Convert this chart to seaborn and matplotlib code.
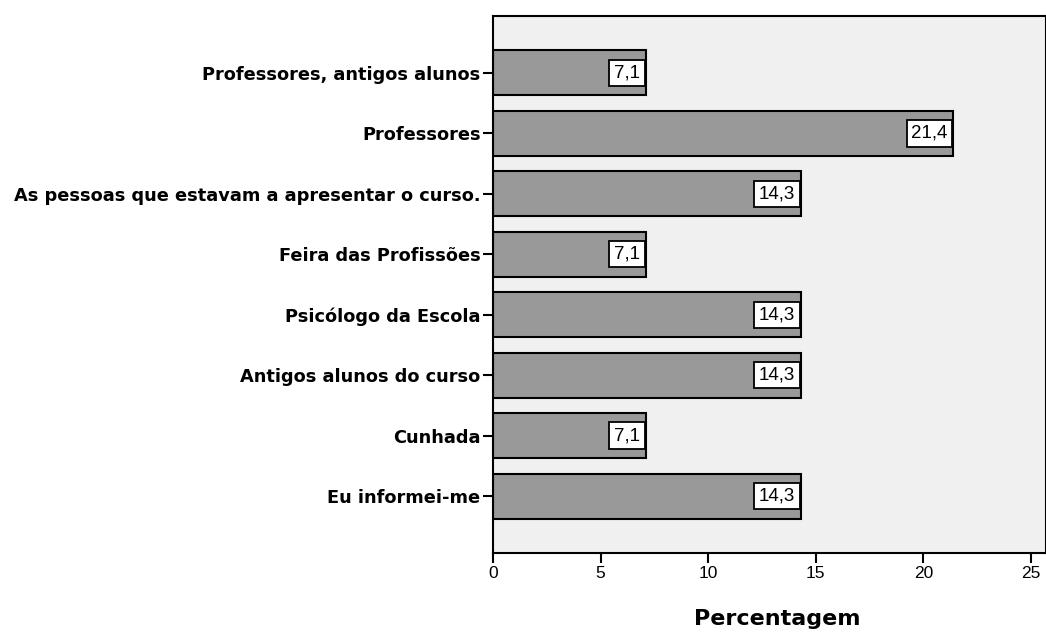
import matplotlib
matplotlib.use("Agg")
import matplotlib.pyplot as plt
import seaborn as sns
import pandas as pd

categories = [
    "Professores, antigos alunos",
    "Professores",
    "As pessoas que estavam a apresentar o curso.",
    "Feira das Profissões",
    "Psicólogo da Escola",
    "Antigos alunos do curso",
    "Cunhada",
    "Eu informei-me",
]
values = [7.1, 21.4, 14.3, 7.1, 14.3, 14.3, 7.1, 14.3]
value_labels = ["7,1", "21,4", "14,3", "7,1", "14,3", "14,3", "7,1", "14,3"]
xticks = [0, 5, 10, 15, 20, 25]

sns.set_style("white")
plt.rcParams["font.family"] = ["Liberation Sans", "DejaVu Sans"]
plt.rcParams["text.color"] = "black"
plt.rcParams["xtick.color"] = "black"
plt.rcParams["ytick.color"] = "black"
plt.rcParams["axes.labelcolor"] = "black"

df = pd.DataFrame({"cat": categories, "val": values})

fig = plt.figure(figsize=(10.46, 6.33), dpi=100)
ax = fig.add_axes([493 / 1046, 1 - 553 / 633, (1046 - 493) / 1046, (553 - 16) / 633])
ax.set_facecolor("#f0f0f0")

sns.barplot(data=df, x="val", y="cat", orient="h", color="#999999",
            edgecolor="black", linewidth=1.5, width=0.745, saturation=1, ax=ax)

for i, (v, lab) in enumerate(zip(values, value_labels)):
    ax.annotate(lab, xy=(v, i), xytext=(-4.2, 0), textcoords="offset points",
                ha="right", va="center", fontsize=13.5, color="black",
                bbox=dict(boxstyle="square,pad=0.25", facecolor="white",
                          edgecolor="black", linewidth=1.3))

ax.set_xlim(0, 25.7)
ax.set_ylim(len(categories) - 1 + 0.94, -0.94)
ax.set_xticks(xticks)
ax.set_xticklabels([str(t) for t in xticks], fontsize=12.5)
ax.set_yticks(range(len(categories)))
ax.set_yticklabels(categories, fontsize=12.8, fontweight="bold",
                   family=["DejaVu Sans"])
ax.tick_params(axis="both", direction="out", length=7, width=1.5, color="black",
               left=True, bottom=True, pad=2)
ax.set_ylabel("")
ax.set_xlabel("Percentagem", fontsize=16, fontweight="bold", family=["DejaVu Sans"],
              va="center")
ax.xaxis.set_label_coords((777 - 493) / (1046 - 493), -0.123)

for s in ax.spines.values():
    s.set_visible(True)
    s.set_color("black")
    s.set_linewidth(1.5)

fig.savefig("out.png", dpi=100, facecolor="white")
